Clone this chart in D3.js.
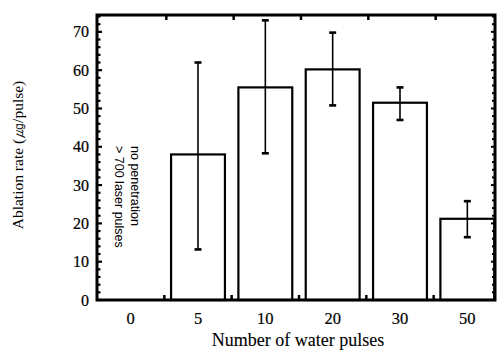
<!DOCTYPE html>
<html><head><meta charset="utf-8">
<script src="https://cdn.jsdelivr.net/npm/d3@7"></script>
<style>html,body{margin:0;padding:0;background:#fff;}svg{display:block;}</style>
</head><body>
<svg id="c" width="501" height="352"></svg>
<script>
const categories = ["0", "5", "10", "20", "30", "50"];
const rates = [null, 38, 55.5, 60.2, 51.5, 21.2];
const errLow = [null, 13.2, 38.3, 50.8, 47, 16.4];
const errHigh = [null, 62, 73, 69.8, 55.5, 25.8];
const yTicks = [0, 10, 20, 30, 40, 50, 60, 70];
const annotation = ["no penetration", "> 700 laser pulses"];
const xTitle = "Number of water pulses";
const yTitle = "Ablation rate (㎍/pulse)";

(function () {
const svg = d3.select("#c");
const pl = 97, pr = 495, pt = 15, pb = 300;
const x = d3.scaleBand().domain(categories).range([97, 501]).paddingInner(0.2).paddingOuter(0.1);
const step = x.step();
const y = d3.scaleLinear().domain([0, 74.4]).range([pb, pt]);
const serif = "'Liberation Serif','Times New Roman',serif";
const heavy = (sel, w) => sel.attr("stroke", "#000").attr("stroke-width", w).attr("fill", "#000");

// bars
const data = categories.map((c, i) => ({c, v: rates[i], lo: errLow[i], hi: errHigh[i]})).filter(d => d.v != null);
svg.append("g").selectAll("rect").data(data).join("rect")
  .attr("x", d => x(d.c)).attr("width", x.bandwidth())
  .attr("y", d => y(d.v)).attr("height", d => y(0) - y(d.v))
  .attr("fill", "#fff").attr("stroke", "#000").attr("stroke-width", 2.2);

// error bars
const eb = svg.append("g").attr("stroke", "#000");
data.forEach(d => {
  const cx = x(d.c) + x.bandwidth() / 2;
  eb.append("line").attr("x1", cx).attr("x2", cx).attr("y1", y(d.hi)).attr("y2", y(d.lo)).attr("stroke-width", 1.6);
  [d.hi, d.lo].forEach(v => eb.append("line").attr("x1", cx - 3.5).attr("x2", cx + 3.5)
    .attr("y1", y(v)).attr("y2", y(v)).attr("stroke-width", 2.6));
});

// left axis
const yMinor = d3.range(0, 75, 2);
const la = svg.append("g").attr("transform", `translate(${pl},0)`)
  .call(d3.axisLeft(y).tickValues(yTicks).tickSize(0).tickPadding(8));
la.select(".domain").remove();
la.selectAll("text").attr("font-family", serif).attr("font-size", 16).call(heavy, 0.2);
svg.append("g").selectAll("line").data(yMinor).join("line")
  .attr("x1", pl).attr("x2", d => pl + (d % 10 === 0 ? 5 : 3.5))
  .attr("y1", d => y(d)).attr("y2", d => y(d)).attr("stroke", "#000").attr("stroke-width", 2.2);
// right axis
svg.append("g").selectAll("line").data(yMinor).join("line")
  .attr("x1", pr).attr("x2", d => pr - (d % 10 === 0 ? 4 : 3))
  .attr("y1", d => y(d)).attr("y2", d => y(d)).attr("stroke", "#000").attr("stroke-width", 2);

// bottom axis labels
const ba = svg.append("g").attr("transform", `translate(0,${pb})`)
  .call(d3.axisBottom(x).tickSize(0).tickPadding(12));
ba.select(".domain").remove();
ba.selectAll("text").attr("font-family", serif).attr("font-size", 16.5).call(heavy, 0.2);

// boundary ticks top/bottom
const bounds = categories.slice(1).map(c => x(c) - step * x.paddingInner() / 2);
svg.append("g").selectAll("line").data(bounds).join("line")
  .attr("x1", d => d).attr("x2", d => d).attr("y1", pb).attr("y2", pb - 5)
  .attr("stroke", "#000").attr("stroke-width", 2.5);
svg.append("g").selectAll("line").data(bounds).join("line")
  .attr("x1", d => d + 2).attr("x2", d => d + 2).attr("y1", pt).attr("y2", pt + 5)
  .attr("stroke", "#000").attr("stroke-width", 2.5);

// frame
svg.append("path").attr("d", `M${pl},${pt}H${pr}V${pb}H${pl}Z`)
  .attr("fill", "none").attr("stroke", "#000").attr("stroke-width", 3);

// annotation (rotated clockwise)
const ag = svg.append("g").attr("transform", `translate(131,146) rotate(90)`);
ag.selectAll("text").data(annotation).join("text")
  .attr("x", 0).attr("y", (d, i) => i * 16)
  .attr("font-family", "'Liberation Sans',Arial,sans-serif").attr("font-size", 12.5).attr("fill", "#000")
  .text(d => d);

// titles
svg.append("text").attr("x", 298).attr("y", 346).attr("text-anchor", "middle")
  .attr("font-family", serif).attr("font-size", 18).call(heavy, 0.1).text(xTitle);
svg.append("text").attr("transform", `translate(23,155) rotate(-90)`).attr("text-anchor", "middle")
  .attr("font-family", serif).attr("font-size", 15.5).attr("fill", "#000").text(yTitle);
})();
</script>
</body></html>
